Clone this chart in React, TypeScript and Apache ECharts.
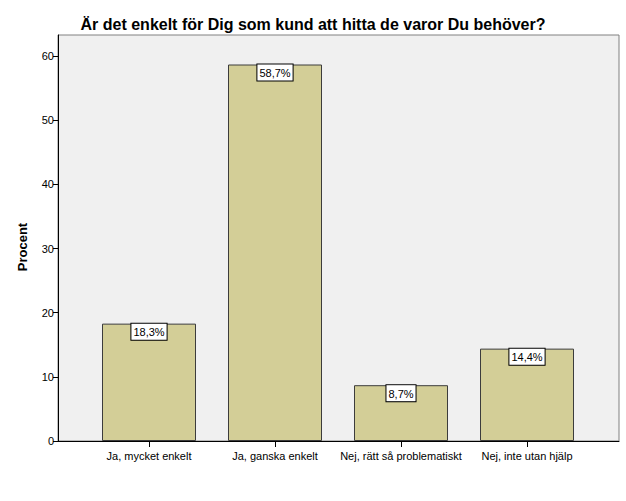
import React, { useEffect, useRef } from "react";
import * as echarts from "echarts";

const categories = ["Ja, mycket enkelt", "Ja, ganska enkelt", "Nej, rätt så problematiskt", "Nej, inte utan hjälp"];
const values = [18.3, 58.7, 8.7, 14.4];
const labels = ["18,3%", "58,7%", "8,7%", "14,4%"];
const yTicks = [0, 10, 20, 30, 40, 50, 60];
const title = "Är det enkelt för Dig som kund att hitta de varor Du behöver?";
const yName = "Procent";

export default function App() {
  const ref = useRef<HTMLDivElement>(null);
  useEffect(() => {
    if (!ref.current) return;
    const chart = echarts.init(ref.current, null, { renderer: "svg" });
    const font = "'Liberation Sans', Arial, sans-serif";
    const yMax = 63.3;
    chart.setOption({
      animation: false,
      backgroundColor: "#ffffff",
      textStyle: { fontFamily: font },
      title: {
        text: title,
        left: "center",
        top: 11,
        textStyle: { fontSize: 16, fontWeight: "bold", color: "#000", fontFamily: font },
      },
      graphic: [
        {
          type: "text",
          x: 22,
          y: 247,
          rotation: Math.PI / 2,
          style: {
            text: yName,
            font: `bold 13px ${font}`,
            fill: "#000",
            textAlign: "center",
            textVerticalAlign: "middle",
          },
        },
      ],
      grid: [
        {
          left: 58,
          right: 7,
          top: 35,
          bottom: 60,
          show: true,
          backgroundColor: "#f0f0f0",
          borderColor: "#808080",
          borderWidth: 1,
        },
        { left: 86, right: 36, top: 35, bottom: 60 },
      ],
      xAxis: [
        {
          gridIndex: 0,
          type: "category",
          data: [""],
          axisLine: { show: true, lineStyle: { color: "#000", width: 1 } },
          axisTick: { show: false },
          axisLabel: { show: false },
          splitLine: { show: false },
        },
        {
          gridIndex: 1,
          type: "category",
          data: categories,
          axisLine: { show: false },
          axisTick: { show: true, alignWithLabel: true, length: 6, lineStyle: { color: "#000" } },
          axisLabel: { color: "#000", fontSize: 11, margin: 9, fontFamily: font, interval: 0 },
          splitLine: { show: false },
        },
      ],
      yAxis: [
        {
          gridIndex: 0,
          type: "value",
          min: 0,
          max: yMax,
          interval: 10,
          axisLine: { show: true, lineStyle: { color: "#000", width: 1 } },
          axisTick: { show: true, length: 5, lineStyle: { color: "#000" }, customValues: yTicks },
          axisLabel: { color: "#000", fontSize: 11, margin: 4, fontFamily: font, customValues: yTicks },
          splitLine: { show: false },
        },
        {
          gridIndex: 1,
          type: "value",
          min: 0,
          max: yMax,
          show: false,
          splitLine: { show: false },
        },
      ],
      series: [
        {
          type: "bar",
          xAxisIndex: 1,
          yAxisIndex: 1,
          data: values,
          barWidth: 94,
          itemStyle: { color: "#d3ce97", borderColor: "#3c3c3c", borderWidth: 1 },
          label: {
            show: true,
            position: "insideTop",
            distance: 0,
            formatter: (p: any) => labels[p.dataIndex],
            color: "#000",
            fontSize: 11,
            fontFamily: font,
            backgroundColor: "#ffffff",
            borderColor: "#000",
            borderWidth: 1,
            padding: [3, 2, 2, 2],
          },
        },
      ],
    });
    return () => chart.dispose();
  }, []);
  return <div ref={ref} style={{ width: 626, height: 501, position: "absolute", left: 0, top: 0 }} />;
}
